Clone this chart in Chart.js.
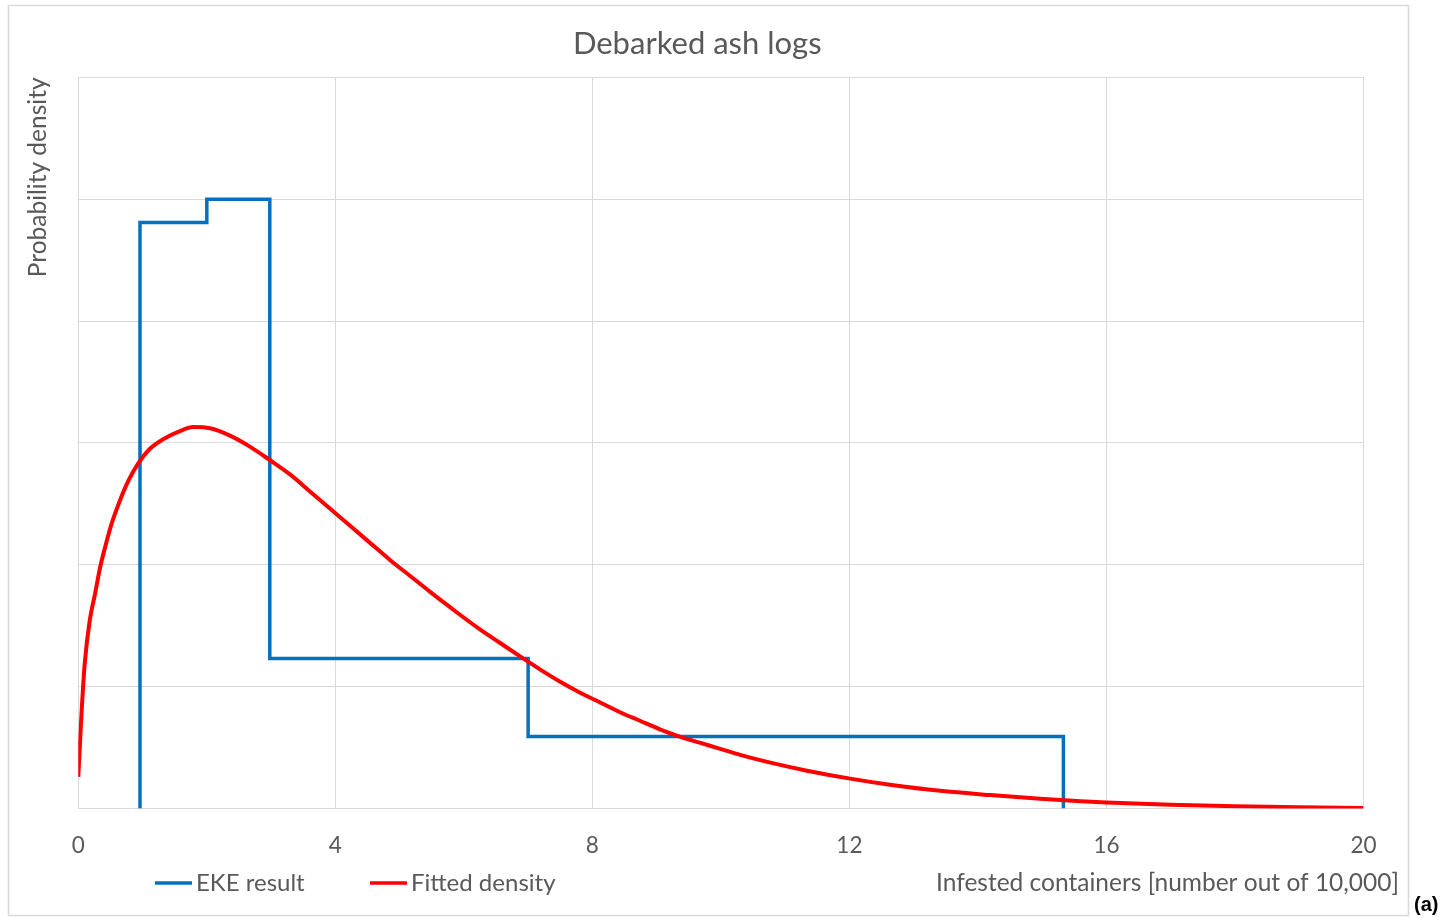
<!DOCTYPE html>
<html>
<head>
<meta charset="utf-8">
<script src="https://cdn.jsdelivr.net/npm/chart.js@4/dist/chart.umd.min.js"></script>
<style>
  html, body { margin: 0; padding: 0; background: #ffffff; }
  #wrap { width: 1447px; height: 918px; position: relative; }
</style>
</head>
<body>
<div id="wrap"><canvas id="c" width="1447" height="918"></canvas></div>
<script>
// ---- data ----
const chartTitle = "Debarked ash logs";
const yAxisTitle = "Probability density";
const xAxisTitle = "Infested containers [number out of 10,000]";
const panelLabel = "(a)";
const xTicks = [0, 4, 8, 12, 16, 20];

const ekeLabel = "EKE result";
const ekeX = [0.96, 0.96, 2.0, 2.0, 2.98, 2.98, 7.0, 7.0, 15.33, 15.33];
const ekeY = [0, 4.81, 4.81, 5.0, 5.0, 1.23, 1.23, 0.59, 0.59, 0];

const fitLabel = "Fitted density";
const fitX = [0, 0.05, 0.10, 0.18, 0.26, 0.34, 0.42, 0.52, 0.65, 0.78, 0.93, 1.11, 1.32, 1.59, 1.79,
  2.05, 2.36, 2.67, 2.98, 3.30, 3.61, 3.92, 4.23, 4.54, 4.85, 5.16, 5.47, 5.79, 6.25, 6.56, 6.87,
  7.19, 7.50, 7.81, 8.12, 8.43, 8.74, 9.05, 9.36, 9.67, 9.99, 10.30, 10.82, 11.34, 12.01, 12.63,
  13.41, 14.19, 14.97, 15.60, 16.0, 17.0, 18.0, 19.0, 20.0];
const fitY = [0.26, 0.78, 1.19, 1.55, 1.76, 1.98, 2.15, 2.34, 2.53, 2.69, 2.83, 2.95, 3.03, 3.10, 3.13,
  3.12, 3.06, 2.97, 2.86, 2.74, 2.60, 2.46, 2.32, 2.18, 2.04, 1.91, 1.78, 1.65, 1.47, 1.36, 1.25,
  1.14, 1.04, 0.95, 0.87, 0.79, 0.72, 0.65, 0.59, 0.54, 0.49, 0.44, 0.37, 0.31, 0.245, 0.195,
  0.145, 0.11, 0.08, 0.06, 0.05, 0.03, 0.018, 0.01, 0.005];

// ---- chart ----
const FONT = "Lato, 'Open Sans', sans-serif";
const TXT = "#595959";
const GRID = "#d9d9d9";

const toPts = (xs, ys) => xs.map((x, i) => ({ x: x, y: ys[i] }));

const decorPlugin = {
  id: "decor",
  afterLayout(chart) {
    // shift the title to the centre used by the reference
    if (chart.titleBlock) { chart.titleBlock.left += 22; }
  },
  beforeDraw(chart) {
    const ctx = chart.ctx;
    ctx.save();
    ctx.fillStyle = "#ffffff";
    ctx.fillRect(0, 0, chart.width, chart.height);
    ctx.restore();
  },
  afterDraw(chart) {
    const ctx = chart.ctx;
    ctx.save();
    // outer chart border
    ctx.strokeStyle = GRID;
    ctx.lineWidth = 1.5;
    ctx.strokeRect(8.5, 5.5, 1400, 910);
    // legend
    const legendPos = [155, 370];
    ctx.font = "24px " + FONT;
    ctx.textBaseline = "middle";
    ctx.textAlign = "left";
    chart.data.datasets.forEach((ds, i) => {
      const lx = legendPos[i];
      ctx.strokeStyle = ds.borderColor;
      ctx.lineWidth = 3.5;
      ctx.beginPath();
      ctx.moveTo(lx, 883);
      ctx.lineTo(lx + 37, 883);
      ctx.stroke();
      ctx.fillStyle = TXT;
      ctx.fillText(ds.label, lx + 41, 883);
    });
    // x axis title
    ctx.font = "24.5px " + FONT;
    ctx.textAlign = "right";
    ctx.fillText(xAxisTitle, 1399, 883);
    // panel label
    ctx.fillStyle = "#000000";
    ctx.font = "bold 20px 'Liberation Sans', Arial, sans-serif";
    ctx.textAlign = "left";
    ctx.fillText(panelLabel, 1414, 905);
    ctx.restore();
  }
};

new Chart(document.getElementById("c"), {
  type: "scatter",
  data: {
    datasets: [
      {
        label: ekeLabel,
        data: toPts(ekeX, ekeY),
        showLine: true,
        borderColor: "#0070c0",
        backgroundColor: "#0070c0",
        borderWidth: 3.5,
        pointRadius: 0,
        tension: 0,
        borderJoinStyle: "miter",
        borderCapStyle: "butt",
        order: 2
      },
      {
        label: fitLabel,
        data: toPts(fitX, fitY),
        showLine: true,
        borderColor: "#ff0000",
        backgroundColor: "#ff0000",
        borderWidth: 4,
        pointRadius: 0,
        cubicInterpolationMode: "monotone",
        order: 1
      }
    ]
  },
  options: {
    responsive: false,
    animation: false,
    devicePixelRatio: 1,
    layout: { padding: { left: 9, right: 83.5, top: 0, bottom: 49.5 } },
    plugins: {
      legend: { display: false },
      tooltip: { enabled: false },
      title: {
        display: true,
        text: chartTitle,
        color: TXT,
        font: { family: FONT, size: 31, weight: "normal", lineHeight: 1.2 },
        padding: { top: 25.4, bottom: 14.8 }
      }
    },
    scales: {
      x: {
        type: "linear",
        min: 0,
        max: 20,
        afterBuildTicks(scale) { scale.ticks = xTicks.map(v => ({ value: v })); },
        afterFit(scale) { scale.height = 60; },
        ticks: { color: TXT, font: { family: FONT, size: 22.5 }, padding: 24, maxRotation: 0 },
        grid: { color: GRID, lineWidth: 1, drawTicks: false },
        border: { color: GRID, width: 1 }
      },
      y: {
        type: "linear",
        min: 0,
        max: 6,
        ticks: { stepSize: 1, display: false },
        afterFit(scale) { scale.width = 69.3; },
        grid: { color: GRID, lineWidth: 1, drawTicks: false },
        border: { color: GRID, width: 1 },
        title: {
          display: true,
          text: yAxisTitle,
          align: "end",
          color: TXT,
          font: { family: FONT, size: 24.5, lineHeight: 1.2 },
          padding: { top: 14.5, bottom: 0 }
        }
      }
    }
  },
  plugins: [decorPlugin]
});
</script>
</body>
</html>
